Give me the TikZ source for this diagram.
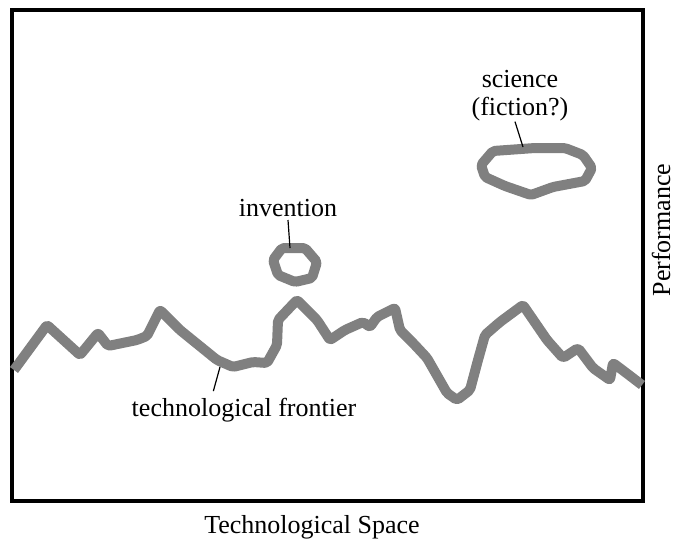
\documentclass[tikz,border=0pt]{standalone}
\usepackage{fontspec}
\setmainfont{Liberation Serif}
\definecolor{ridgegray}{RGB}{128,128,128}
\tikzset{
  ridge/.style={line width=7.5pt, draw=ridgegray, line join=round, rounded corners=1.5pt},
  leader/.style={line width=0.9pt},
  lbl/.style={font=\fontsize{19.5}{21}\selectfont, inner sep=0pt, align=center}
}

\begin{document}
\begin{tikzpicture}[x=0.75pt, y=-0.75pt]
	\useasboundingbox (0,0) rectangle (678,539);
	
	% Frame
	\draw[line width=2.3pt] (12,10) rectangle (643,501);
	
	% Technological frontier
	\draw[ridge] (14,370) -- (47,325) -- (80,355) -- (98,333) -- (108,346)
		-- (137,340) -- (147,336) -- (160,310) -- (180,330) -- (217,360)
		-- (233,367) -- (253,362) -- (267,363) -- (277,345) -- (278,320)
		-- (297,300) -- (317,320) -- (330,340) -- (345,330) -- (363,322)
		-- (370,327) -- (377,317) -- (395,308) -- (400,330) -- (413,343)
		-- (427,358) -- (447,393) -- (457,400) -- (470,390) -- (478,360)
		-- (485,335) -- (500,322) -- (523,305) -- (547,340) -- (563,358)
		-- (578,348) -- (593,368) -- (610,380) -- (613,363) -- (625,372)
		-- (642,385);
	
	% Invention
	\draw[ridge] (282,248) -- (305,248) -- (317,262) -- (312,278) -- (295,282)
		-- (278,275) -- (273,260) -- cycle;
	
	% Science
	\draw[ridge] (493,151) -- (535,148) -- (565,148) -- (583,155) -- (592,168)
		-- (585,181) -- (553,187) -- (531,195) -- (505,186) -- (485,177)
		-- (481,165) -- cycle;
	
	% Labels
	\node[lbl] (inv) at (288,208) {invention};
	\node[lbl] (sci) at (520,96) {science\\(fiction?)};
	\node[lbl] (tf) at (244,410) {technological frontier};
	\node[lbl] (xlab) at (312,527) {Technological Space};
	\node[lbl, rotate=90] (ylab) at (661,230) {Performance};
	
	% Leaders
	\coordinate (invtip) at (290,248);
	\coordinate (scitip) at (523,147);
	\coordinate (tftip) at (220,367);
	\draw[leader] (inv.south) ++(0,3) -- (invtip);
	\draw[leader] (sci.south) ++(-5,0) -- (scitip);
	\draw[leader] (tftip) -- ([xshift=-23pt, yshift=5pt]tf.north);
\end{tikzpicture}
\end{document}
